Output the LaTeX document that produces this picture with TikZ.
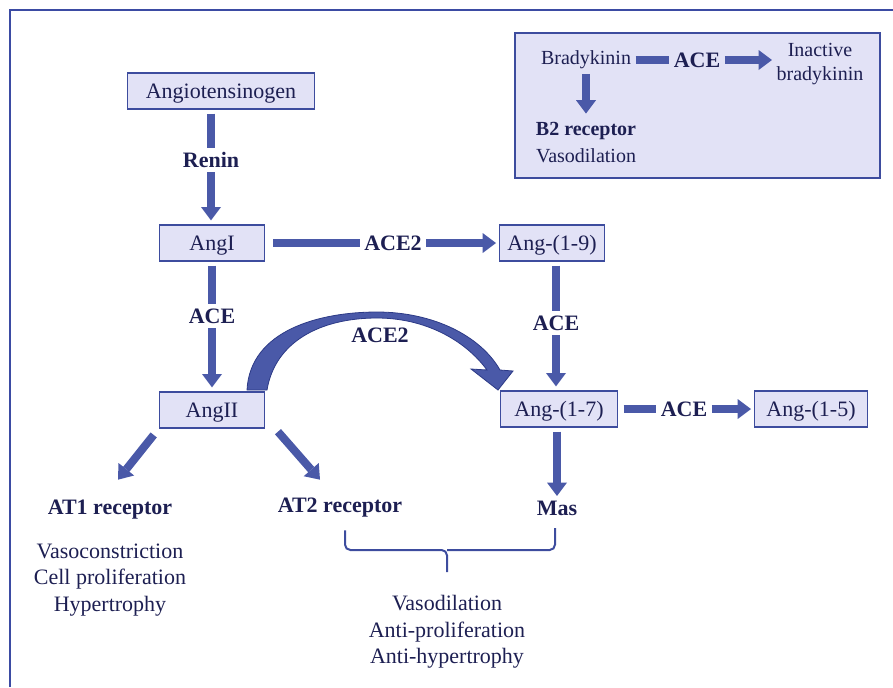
\documentclass[tikz,border=0pt]{standalone}
\usepackage{fontspec}
\setmainfont{Liberation Serif}
\usetikzlibrary{arrows.meta}
\definecolor{ink}{HTML}{1D1F52}
\definecolor{boxfill}{HTML}{E2E2F6}
\definecolor{boxline}{HTML}{3D4C9E}
\definecolor{arrowfill}{HTML}{4A59A8}
\definecolor{arrowedge}{HTML}{2C3A86}
\definecolor{framecol}{HTML}{3B4BA3}
\begin{document}
\begin{tikzpicture}
  [x=0.75pt,y=-0.75pt,
   every node/.style={text=ink,font=\fontsize{16.5}{20}\selectfont},
   box/.style={draw=boxline,fill=boxfill,line width=1pt,minimum height=27pt,inner sep=2pt,text depth=0pt},
   enz/.style={font=\fontsize{16.5}{20}\selectfont\bfseries},
   small/.style={font=\fontsize{15}{18}\selectfont},
   bar/.style={draw=arrowfill,line width=6pt},
   blk/.style={bar,-{Triangle[width=15pt,length=10pt,line width=0pt]}}]
  \useasboundingbox (0,0) rectangle (893,687);
  \draw[framecol,line width=1.5pt] (10,687) -- (10,10) -- (893,10);

  % main pathway
  \node[box,minimum width=140pt] (agt) at (221,91) {Angiotensinogen};
  \node[enz] (renin) at (211,160) {Renin};
  \node[box,minimum width=79pt] (ang1) at (212,243) {AngI};
  \node[enz] (ace2a) at (393,243) {ACE2};
  \node[box,minimum width=79pt] (ang19) at (552,243) {Ang-(1-9)};
  \node[enz] (acea) at (212,316) {ACE};
  \node[box,minimum width=79pt] (ang2) at (212,410) {AngII};
  \node[enz] (aceb) at (556,323) {ACE};
  \node[box,minimum width=88pt] (ang17) at (559,409) {Ang-(1-7)};
  \node[enz] (acec) at (684,409) {ACE};
  \node[box,minimum width=85pt] (ang15) at (811,409) {Ang-(1-5)};
  \node[enz] (at1) at (110,510) {AT1 receptor};
  \node[enz] (at2) at (340,508) {AT2 receptor};
  \node[enz] (mas) at (557,508) {Mas};
  \node[align=center] (eff1) at (110,580) {Vasoconstriction\\Cell proliferation\\Hypertrophy};
  \node[align=center] (eff2) at (447,632) {Vasodilation\\Anti-proliferation\\Anti-hypertrophy};

  \draw[bar,shorten <=3pt] (renin |- agt.south) -- (renin);
  \draw[blk,shorten >=3pt] (renin) -- (renin |- ang1.north);
  \draw[bar,shorten <=6pt] (ang1) -- (ace2a);
  \draw[blk,shorten >=2pt] (ace2a) -- (ang19);
  \draw[bar,shorten <=3pt] (ang1) -- (acea);
  \draw[blk,shorten >=3pt] (acea) -- (ang2);
  \draw[bar,shorten <=3pt] (aceb |- ang19.south) -- (aceb);
  \draw[blk,shorten >=3pt] (aceb) -- (aceb |- ang17.north);
  \draw[bar,shorten <=4pt] (ang17) -- (acec);
  \draw[blk,shorten >=2pt] (acec) -- (ang15);
  \draw[blk,shorten <=3pt] (mas |- ang17.south) -- (mas);
  \draw[blk,shorten <=6pt] (ang2.south west) -- ([shift={(8,-16)}]at1.north);
  \draw[blk,shorten <=3pt] ([shift={(10,0)}]ang2.south east) -- ([shift={(-20,-14)}]at2.north);

  % ACE2 shortcut AngII -> Ang-(1-7)
  \filldraw[fill=arrowfill,draw=arrowedge,line width=0.6pt]
    (247,390) .. controls (250,330) and (320,312) .. (377,312)
    .. controls (432,312) and (480,335) .. (500,370) -- (513,371) -- (498,390) -- (471,369) -- (487,370)
    .. controls (465,340) and (425,318) .. (377,318)
    .. controls (320,318) and (275,342) .. (267,390) -- cycle;
  \node[enz] (ace2b) at (380,335) {ACE2};

  % bracket
  \draw[boxline,line width=1.5pt,rounded corners=4pt] (at2.south -| 345,0) ++(0,8) |- (447,550) -- (447,572);
  \draw[boxline,line width=1.5pt,rounded corners=4pt] (mas.south -| 555,0) ++(0,8) |- (447,550);

  % bradykinin inset
  \node[draw=boxline,fill=boxfill,line width=1.5pt,minimum width=273.75pt,minimum height=108.75pt] (brk) at (697.5,105.5) {};
  \node[small] (bk) at (586,60) {Bradykinin};
  \node[enz] (aced) at (697,60) {ACE};
  \node[small,align=center] (ibk) at (820,64) {Inactive\\bradykinin};
  \node[small,font=\fontsize{15}{18}\selectfont\bfseries] (b2) at (586,131) {B2 receptor};
  \node[small] (vd) at (586,156) {Vasodilation};
  \draw[bar] (bk) -- (aced);
  \draw[blk] (aced) -- (aced -| ibk.west);
  \draw[blk,shorten >=3pt] (bk) -- (b2);
\end{tikzpicture}
\end{document}
